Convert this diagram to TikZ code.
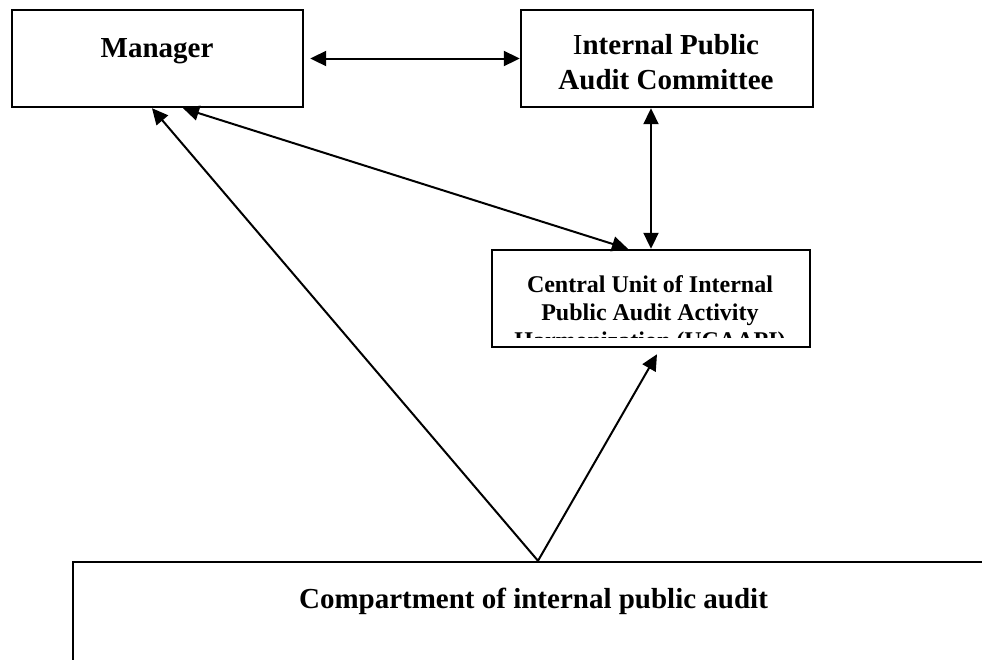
\documentclass[tikz,border=0pt]{standalone}
\usepackage{fontspec}
\setmainfont{Liberation Serif}
\usetikzlibrary{arrows.meta,calc}

\begin{document}
\begin{tikzpicture}[x=0.5pt, y=-0.5pt, >={Triangle[length=8pt,width=7.5pt]},
		orgbox/.style={draw, rectangle, line width=1.2pt, inner sep=0pt},
		orgtext/.style={font=\fontsize{14.5}{17.5}\selectfont\bfseries, align=center, inner sep=0pt},
		unittext/.style={font=\fontsize{12}{13.9}\selectfont\bfseries, align=center, inner sep=0pt},
		link/.style={line width=1pt}]
	% Fix the page and cut what runs over it
	\useasboundingbox (0,0) rectangle (982,660);
	\clip (0,0) rectangle (982,660);

	% Draw the boxes
	\node[orgbox, minimum width=145.5pt, minimum height=48.5pt] (manager) at (157.5,58.5) {};
	\node[orgbox, minimum width=146pt, minimum height=48.5pt] (committee) at (667,58.5) {};
	\node[orgbox, minimum width=159pt, minimum height=48.5pt] (central) at (651,298.5) {};
	\node[orgbox, minimum width=463.5pt, minimum height=79pt] (compartment) at (536.5,641) {};

	% Put the texts in the boxes
	\node[orgtext, anchor=base] (managertext) at (157,57) {Manager};
	\node[orgtext] (committeetext) at (666,62.5) {\textmd{I}nternal Public\\Audit Committee};
	\begin{scope}
		\clip ([shift={(1pt,-1pt)}]central.north west) rectangle ([yshift=5.5pt]central.south east);
		\node[unittext] (centraltext) at (650,314.5) {Central Unit of Internal\\Public Audit Activity\\Harmonization (UCAAPI)};
	\end{scope}
	\node[orgtext, anchor=base] (compartmenttext) at (533.5,608) {Compartment of internal public audit};

	% Draw the links between the boxes
	\coordinate (apex) at ([xshift=0.75pt]compartment.north);
	\draw[link, <->] ([xshift=3pt]manager.east) -- (committee.west);
	\draw[link, <->] (central.north |- committee.south) -- (central.north);
	\draw[link, <->] ([xshift=12.75pt]manager.south) -- ([xshift=-11.5pt]central.north);
	\draw[link, ->] (apex) -- ([xshift=-2.75pt]manager.south);
	\draw[link, ->] (apex) -- ([shift={(3pt,-3pt)}]central.south);
\end{tikzpicture}
\end{document}
